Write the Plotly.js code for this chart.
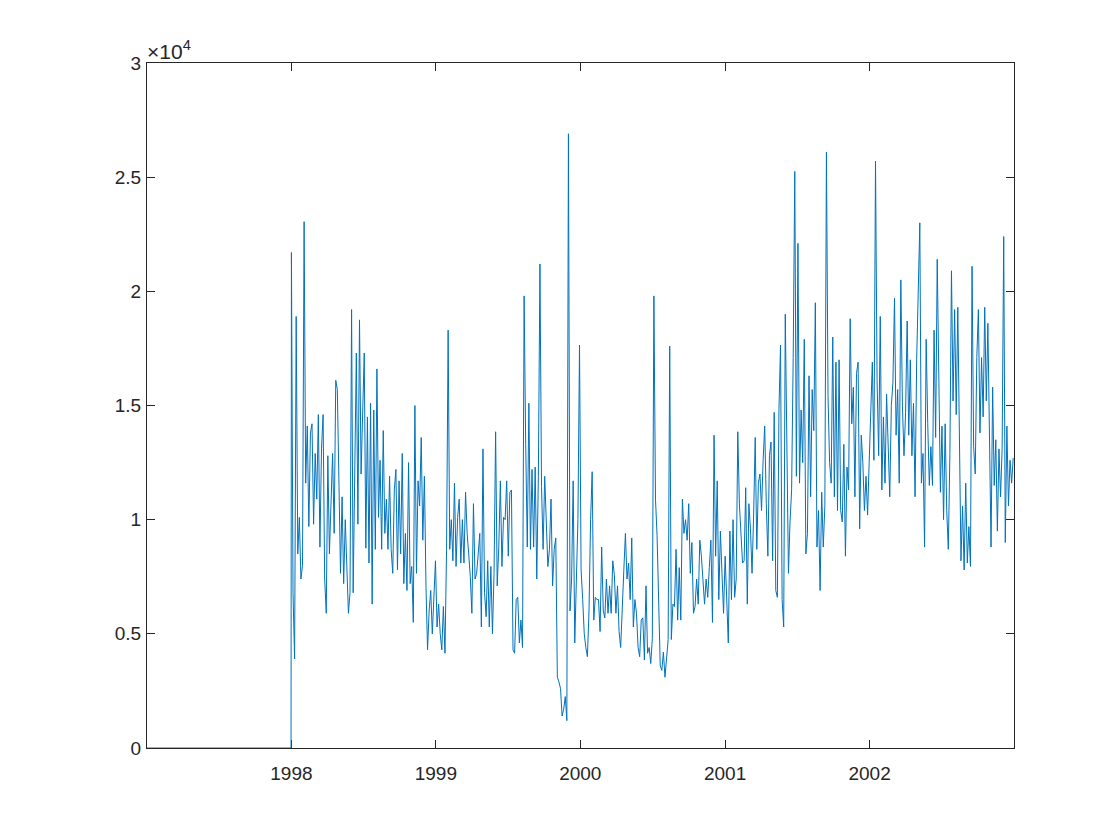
<!DOCTYPE html>
<html>
<head>
<meta charset="utf-8">
<script src="https://cdn.plot.ly/plotly-3.0.1.min.js"></script>
<style>html,body{margin:0;padding:0;background:#ffffff;}</style>
</head>
<body>
<div id="chart" style="width:1120px;height:840px;"></div>
<script>
// ---- data (values in thousands) ----
const seriesStart = '1998-01-01';
const stepDays = 4;
const leadDates = ['1997-01-01', '1997-12-31'];
const leadValuesK = [0, 0];
const valuesK = [
21.7,6.8,3.9,18.9,8.5,10.1,7.4,8.0,23.05,11.6,14.1,9.7,13.8,14.2,9.8,12.9,10.9,14.6,8.8,13.1,
14.6,7.4,5.9,12.8,8.5,10.9,12.9,9.4,16.1,15.7,12.0,7.65,11.0,7.2,10.0,7.95,5.9,6.8,19.2,6.8,
11.9,17.3,9.8,18.75,12.0,15.2,17.3,8.75,14.5,8.1,15.1,6.3,14.8,8.7,16.6,
10.1,12.6,8.7,13.9,9.4,10.9,8.7,11.9,8.7,7.65,11.3,12.2,7.8,11.7,8.5,12.9,7.2,9.4,6.9,12.5,
7.2,7.95,5.5,15.0,7.65,11.7,10.6,13.6,9.1,11.9,7.1,4.3,6.0,6.9,5.0,6.5,8.2,5.3,6.3,5.0,
4.3,6.2,4.15,8.7,18.3,8.7,10.0,8.2,11.6,7.95,10.1,10.9,8.1,10.0,8.1,11.2,9.4,
8.5,7.5,5.9,10.7,7.4,7.65,8.5,9.4,5.3,13.1,6.8,5.75,8.2,5.3,7.95,5.0,7.65,13.85,7.1,8.8,
11.7,7.95,10.1,10.0,11.7,8.4,11.2,11.3,4.3,4.15,6.5,6.6,4.6,5.6,4.4,
19.8,
13.3,8.8,15.1,8.7,12.2,8.8,12.3,7.4,11.9,
21.2,
11.45,8.7,11.9,9.4,7.95,8.7,10.9,7.1,8.7,9.2,3.1,2.9,2.6,1.4,1.7,2.25,1.2,
26.9,
6.0,7.4,11.7,4.6,7.6,10.0,
17.65,
7.8,6.5,5.0,4.4,4.0,6.0,10.0,12.1,5.6,6.6,6.5,6.5,5.1,8.8,6.0,5.7,7.4,5.9,7.1,5.9,
8.2,7.6,5.9,7.1,5.1,4.4,6.6,7.8,9.4,7.4,8.1,6.5,9.2,5.3,6.5,5.9,4.4,4.0,5.6,5.7,
3.85,7.1,4.15,4.4,3.7,4.8,
19.8,
10.9,9.3,5.9,3.6,3.4,4.2,3.1,4.0,4.75,
17.6,
4.75,6.3,6.2,8.7,5.6,7.9,5.6,10.9,9.4,10.0,9.1,10.7,7.65,9.0,5.9,6.2,7.4,6.3,9.1,8.4,
7.4,6.3,7.4,6.6,7.9,9.1,5.5,
13.7,
8.4,11.7,6.5,9.5,7.65,5.9,8.4,6.2,4.6,9.5,6.5,10.0,6.6,7.4,
13.85,
10.7,9.0,8.1,8.2,11.4,6.3,10.7,9.6,7.65,10.2,13.6,8.7,11.6,12.0,10.4,12.6,14.1,10.7,8.4,12.8,
13.4,8.2,14.7,6.9,6.6,14.8,
17.65,6.5,5.3,19.0,13.2,7.65,9.9,11.3,17.1,25.25,11.9,22.1,11.6,14.8,12.5,17.9,8.5,9.4,16.3,11.0,
15.7,13.9,19.5,8.8,10.4,6.9,11.2,8.8,10.6,26.1,
15.4,12.5,11.6,18.0,11.0,16.9,10.4,17.0,10.4,9.9,13.3,8.4,12.3,11.3,18.8,14.2,15.8,11.0,16.4,16.9,
9.6,13.7,12.5,10.4,11.9,10.2,12.5,14.8,16.9,12.6,
25.7,
16.1,12.8,18.9,11.3,14.5,11.6,15.5,12.8,11.0,15.0,16.0,19.7,13.7,15.7,11.6,
20.5,
15.0,12.8,14.7,18.7,13.7,17.0,12.8,15.1,
11.0,17.0,20.6,23.0,
11.6,12.9,8.8,17.9,14.2,11.5,13.2,11.5,
18.3,13.6,21.4,
15.5,11.2,14.1,10.0,14.2,
10.4,8.7,12.9,20.9,15.2,19.2,14.6,19.3,12.3,8.2,10.6,7.8,11.6,8.1,9.7,7.95,
21.1,
13.2,12.0,17.1,19.2,13.8,17.1,14.5,19.3,15.2,18.6,12.3,8.8,15.8,11.5,13.5,9.5,13.1,11.0,13.1,
22.4,
9.0,14.1,10.6,12.6,11.6,12.7
];
const xTickDates = ['1998-01-01','1999-01-01','2000-01-01','2001-01-01','2002-01-01'];
const xTickLabels = ['1998','1999','2000','2001','2002'];
const yTickValues = [0, 5000, 10000, 15000, 20000, 25000, 30000];
const yTickLabels = ['0','0.5','1','1.5','2','2.5','3'];
const xRange = ['1997-01-01', '2003-01-01'];
const yRange = [0, 30000];

// ---- build series ----
const t0 = Date.UTC(1998, 0, 1);
const dates = leadDates.slice();
const ys = leadValuesK.map(v => v * 1000);
valuesK.forEach((v, i) => {
  const d = new Date(t0 + i * stepDays * 86400000);
  dates.push(d.toISOString().slice(0, 10));
  ys.push(v * 1000);
});

const ink = '#262626';
const font = {family: 'Liberation Sans, Arial, Helvetica, sans-serif', size: 19, color: ink};

const trace = {
  type: 'scatter', mode: 'lines', x: dates, y: ys,
  line: {color: '#0072BD', width: 1}, hoverinfo: 'x+y'
};

const axisCommon = {
  showline: true, linecolor: ink, linewidth: 1, mirror: 'ticks',
  ticks: 'inside', ticklen: 8, tickcolor: ink, tickwidth: 1,
  showgrid: false, zeroline: false, layer: 'below traces', tickfont: font
};

const layout = {
  width: 1120, height: 840, autosize: false,
  paper_bgcolor: '#ffffff', plot_bgcolor: '#ffffff',
  margin: {l: 147, r: 106, t: 63, b: 92, pad: 0},
  showlegend: false,
  font: font,
  xaxis: Object.assign({}, axisCommon, {
    type: 'date', range: xRange, tickmode: 'array',
    tickvals: xTickDates, ticktext: xTickLabels, ticklabelstandoff: 8
  }),
  yaxis: Object.assign({}, axisCommon, {
    range: yRange, tickmode: 'array',
    tickvals: yTickValues, ticktext: yTickLabels, ticklabelstandoff: 1
  }),
  annotations: [{
    xref: 'paper', yref: 'paper', x: 0, y: 1, xanchor: 'left', yanchor: 'bottom',
    text: '\u00d710<sup>4</sup>', showarrow: false,
    font: {family: font.family, size: 21, color: ink}, xshift: -2, yshift: -2
  }]
};

Plotly.newPlot('chart', [trace], layout, {displayModeBar: false, staticPlot: true});
</script>
</body>
</html>
